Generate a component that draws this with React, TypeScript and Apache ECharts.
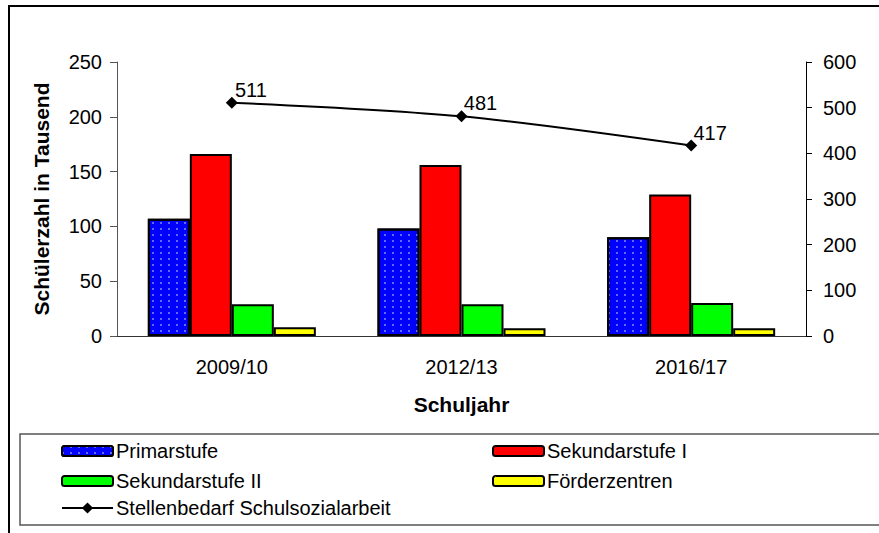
import React, { useEffect, useRef } from "react";
import * as echarts from "echarts";

const categories = ["2009/10", "2012/13", "2016/17"];
const primarstufe = [107, 98, 90];
const sekundarstufeI = [166, 156, 129];
const sekundarstufeII = [29, 29, 30];
const foerderzentren = [8, 7, 7];
const stellenbedarf = [511, 481, 417];
const leftTicks = [0, 50, 100, 150, 200, 250];
const rightTicks = [0, 100, 200, 300, 400, 500, 600];

const FONT = "Liberation Sans";

export default function App() {
  const ref = useRef<HTMLDivElement>(null);
  useEffect(() => {
    if (!ref.current) return;
    const chart = echarts.init(ref.current, null, { renderer: "svg" });
    const barBase = {
      type: "bar" as const,
      barWidth: 42,
      barGap: "0%",
      xAxisIndex: 0,
      yAxisIndex: 0,
    };
    const legendBase = {
      padding: 0,
      itemGap: 0,
      itemWidth: 51,
      itemHeight: 10,
      textStyle: { fontFamily: FONT, fontSize: 20, color: "#000", padding: [0, 0, 0, -2] },
      selectedMode: false,
    };
    chart.setOption({
      animation: false,
      backgroundColor: "#fff",
      textStyle: { fontFamily: FONT },
      grid: { left: 117, right: 73, top: 62, bottom: 197 },
      xAxis: {
        type: "category",
        data: categories,
        axisLine: { lineStyle: { color: "#333", width: 1 } },
        axisTick: { show: false },
        axisLabel: { fontFamily: FONT, fontSize: 20, color: "#000", margin: 21 },
        name: "Schuljahr",
        nameLocation: "middle",
        nameGap: 58,
        nameTextStyle: { fontFamily: FONT, fontSize: 21, fontWeight: "bold", color: "#000" },
      },
      yAxis: [
        {
          type: "value",
          min: leftTicks[0],
          max: leftTicks[leftTicks.length - 1],
          interval: 50,
          position: "left",
          axisLine: { show: true, lineStyle: { color: "#555" } },
          axisTick: { show: true, length: 7, lineStyle: { color: "#555" } },
          splitLine: { show: false },
          axisLabel: { fontFamily: FONT, fontSize: 20, color: "#000", margin: 15 },
          name: "Schülerzahl in Tausend",
          nameLocation: "middle",
          nameRotate: 90,
          nameGap: 65,
          nameTextStyle: { fontFamily: FONT, fontSize: 21, fontWeight: "bold", color: "#000" },
        },
        {
          type: "value",
          min: rightTicks[0],
          max: rightTicks[rightTicks.length - 1],
          interval: 100,
          position: "right",
          axisLine: { show: true, lineStyle: { color: "#000" } },
          axisTick: { show: true, length: 6, lineStyle: { color: "#000" } },
          splitLine: { show: false },
          axisLabel: { fontFamily: FONT, fontSize: 20, color: "#000", margin: 17 },
        },
      ],
      legend: [
        { ...legendBase, left: 61, top: 441, data: ["Primarstufe"] },
        { ...legendBase, left: 492, top: 441, data: ["Sekundarstufe I"] },
        { ...legendBase, left: 61, top: 471, data: ["Sekundarstufe II"] },
        { ...legendBase, left: 492, top: 471, data: ["Förderzentren"] },
        { ...legendBase, left: 61, top: 498, itemHeight: 14, data: ["Stellenbedarf Schulsozialarbeit"] },
      ],
      graphic: [
        {
          type: "rect",
          shape: { x: 9, y: 6, width: 1000, height: 600 },
          style: { fill: "none", stroke: "#000", lineWidth: 2 },
          silent: true,
        },
        {
          type: "rect",
          shape: { x: 20, y: 434, width: 1000, height: 91 },
          style: { fill: "none", stroke: "#555", lineWidth: 1.5 },
          silent: true,
        },
      ],
      series: [
        {
          ...barBase,
          name: "Primarstufe",
          data: primarstufe,
          itemStyle: {
            color: "#0000ff",
            borderColor: "#000",
            borderWidth: 2,
            decal: {
              symbol: "rect",
              symbolSize: 0.8,
              color: "rgba(200,200,255,0.85)",
              dashArrayX: [2, 5.5],
              dashArrayY: [2, 4],
              rotation: 0,
            },
          },
        },
        {
          ...barBase,
          name: "Sekundarstufe I",
          data: sekundarstufeI,
          itemStyle: { color: "#ff0000", borderColor: "#000", borderWidth: 2 },
        },
        {
          ...barBase,
          name: "Sekundarstufe II",
          data: sekundarstufeII,
          itemStyle: { color: "#00ff00", borderColor: "#000", borderWidth: 2 },
        },
        {
          ...barBase,
          name: "Förderzentren",
          data: foerderzentren,
          itemStyle: { color: "#ffff00", borderColor: "#000", borderWidth: 2 },
        },
        {
          type: "line",
          name: "Stellenbedarf Schulsozialarbeit",
          yAxisIndex: 1,
          data: stellenbedarf,
          smooth: 0.3,
          symbol: "diamond",
          symbolSize: 12,
          lineStyle: { color: "#000", width: 2 },
          itemStyle: { color: "#000" },
          label: {
            show: true,
            position: "inside",
            offset: [19, -13],
            fontFamily: FONT,
            fontSize: 20,
            color: "#000",
          },
          z: 5,
        },
      ],
    });
    return () => chart.dispose();
  }, []);
  return (
    <div
      ref={ref}
      style={{ position: "absolute", left: 0, top: 0, width: 879, height: 533 }}
    />
  );
}
